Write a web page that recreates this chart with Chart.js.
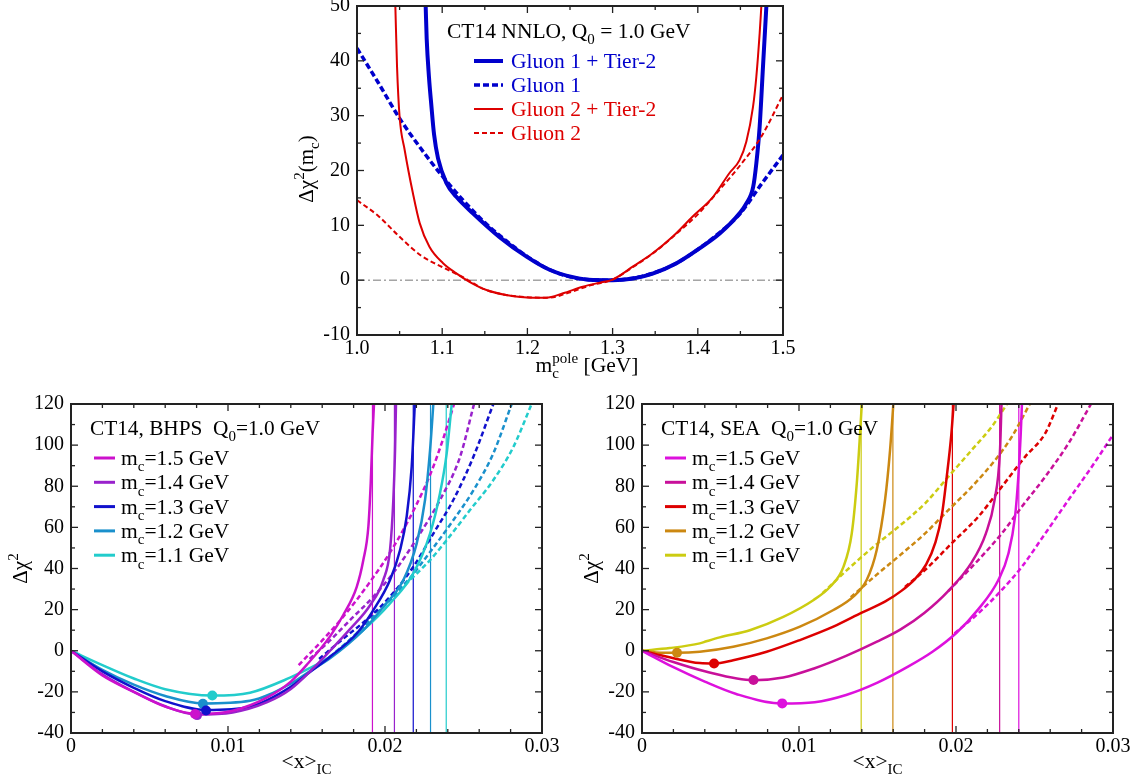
<!DOCTYPE html>
<html>
<head>
<meta charset="utf-8">
<script src="https://cdn.jsdelivr.net/npm/chart.js@4"></script>
<style>
body { margin: 0; background: #fff; width: 1143px; height: 784px; position: relative; overflow: hidden; }
canvas { position: absolute; }
</style>
</head>
<body>
<canvas id="topChart" width="520" height="392" style="left:280px;top:0px"></canvas>
<canvas id="bhpsChart" width="565" height="392" style="left:0px;top:392px"></canvas>
<canvas id="seaChart" width="573" height="392" style="left:570px;top:392px"></canvas>
<script>
// ---- top panel: delta chi2 vs m_c pole ----
var topG1TierX = [1.0806, 1.0818, 1.0845, 1.0872, 1.0905, 1.0951, 1.105, 1.1166, 1.136, 1.167, 1.199, 1.226, 1.2535, 1.277, 1.300, 1.324, 1.347, 1.375, 1.402, 1.4257, 1.449, 1.457, 1.465, 1.4687, 1.4726, 1.4765, 1.4805]
var topG1TierY = [50, 44, 37, 32, 26.5, 22.2, 17.7, 15.2, 12.2, 7.9, 4.3, 1.9, 0.55, 0.03, 0, 0.3, 1.2, 3.1, 5.8, 8.5, 12.2, 14, 17, 21.3, 28, 38.9, 50]
var topG1X = [1.0, 1.025, 1.05, 1.075, 1.1, 1.125, 1.15, 1.175, 1.2, 1.225, 1.25, 1.275, 1.3, 1.325, 1.35, 1.375, 1.4, 1.425, 1.45, 1.475, 1.5]
var topG1Y = [42.3, 36, 29.5, 24, 19, 14.5, 10.5, 7.2, 4.3, 2, 0.6, 0.05, 0, 0.4, 1.4, 3.1, 5.6, 8.6, 12.2, 17.6, 22.8]
var topG2TierX = [1.045, 1.047, 1.050, 1.056, 1.0657, 1.0736, 1.085, 1.101, 1.1166, 1.132, 1.152, 1.175, 1.2066, 1.222, 1.2418, 1.265, 1.285, 1.300, 1.324, 1.347, 1.371, 1.394, 1.418, 1.437, 1.449, 1.457, 1.4648, 1.4687, 1.4726, 1.4746]
var topG2TierY = [50, 38.9, 29.8, 23.7, 15.8, 10.4, 6.1, 3.1, 1.25, -0.3, -1.8, -2.7, -3.2, -3.2, -2.4, -1.2, -0.45, 0.1, 2.5, 4.9, 8, 11.6, 15.2, 19.5, 21.9, 25.3, 31.6, 37.1, 45, 50]
var topG2X = [1.0, 1.025, 1.05, 1.075, 1.1, 1.125, 1.15, 1.175, 1.2, 1.225, 1.25, 1.275, 1.3, 1.325, 1.35, 1.375, 1.4, 1.425, 1.45, 1.475, 1.5]
var topG2Y = [14.6, 11.7, 7.9, 4.5, 2.4, 0.5, -1.7, -2.7, -3.1, -3.2, -2.2, -0.9, 0.1, 2.5, 5.2, 8.5, 12, 16.4, 21, 26.3, 33.8]
var topZeroX = [1.0, 1.5]
var topZeroY = [0, 0]
var topLabels = ['Gluon 1 + Tier-2', 'Gluon 1', 'Gluon 2 + Tier-2', 'Gluon 2']

// ---- bottom left: BHPS ----
var massLabels = ['1.5', '1.4', '1.3', '1.2', '1.1']
var bhps15X = [0, 0.002, 0.004, 0.006, 0.008, 0.0103, 0.0125, 0.014, 0.015, 0.0165, 0.01735, 0.0182, 0.01862, 0.01894, 0.01909, 0.01921, 0.0193]
var bhps15Y = [0, -12, -20, -27.2, -30.8, -29.2, -22.7, -15, -7, 7, 17.5, 31.1, 44.1, 60.3, 81.4, 105.7, 120]
var bhps14X = [0, 0.002, 0.004, 0.006, 0.008, 0.0103, 0.0125, 0.014, 0.0155, 0.0165, 0.01777, 0.01904, 0.01989, 0.02032, 0.02053, 0.02064, 0.0207]
var bhps14Y = [0, -11.5, -20, -27, -31, -30, -25, -18.6, -8, 0, 10.5, 22, 34.4, 49, 73.3, 97.6, 120]
var bhps13X = [0, 0.002, 0.004, 0.006, 0.0086, 0.0114, 0.01395, 0.0152, 0.0165, 0.0182, 0.01926, 0.02032, 0.02096, 0.02138, 0.0217, 0.0219]
var bhps13Y = [0, -10, -18, -24.5, -28.8, -27.2, -17.8, -10.5, -2.9, 8.4, 19.8, 34.4, 49, 65.2, 89.5, 120]
var bhps12X = [0, 0.002, 0.004, 0.006, 0.0084, 0.0114, 0.01395, 0.0152, 0.0165, 0.01862, 0.0199, 0.02117, 0.02202, 0.02255, 0.02287, 0.02308]
var bhps12Y = [0, -9.3, -16.5, -22, -25.6, -24.3, -16.2, -10, -3.7, 10, 21.4, 34.4, 52.2, 73.3, 97.6, 120]
var bhps11X = [0, 0.002, 0.004, 0.006, 0.009, 0.0114, 0.01395, 0.0152, 0.0165, 0.01862, 0.02032, 0.0218, 0.02287, 0.0235, 0.02393, 0.02425]
var bhps11Y = [0, -7, -13.5, -18.7, -21.8, -20.4, -13.1, -8.5, -2.9, 10, 23, 37.6, 57, 76.5, 96, 120]
var bhps15DashX = [0.0145, 0.016, 0.0175, 0.019, 0.0205, 0.022, 0.023, 0.0237, 0.0244]
var bhps15DashY = [-7, 5, 18, 33, 50, 71, 88, 103, 120]
var bhps14DashX = [0.0152, 0.0165, 0.01777, 0.01926, 0.02074, 0.02223, 0.0235, 0.02478, 0.02567]
var bhps14DashY = [-4, 5, 14.9, 26.3, 40, 57, 73.3, 94.3, 120]
var bhps13DashX = [0.0158, 0.0172, 0.01904, 0.02032, 0.0218, 0.02308, 0.02435, 0.02563, 0.0269]
var bhps13DashY = [-4, 5, 16.5, 26.3, 40.8, 57, 73.3, 94.3, 120]
var bhps12DashX = [0.0165, 0.018, 0.0201, 0.0216, 0.02287, 0.02435, 0.02563, 0.0269, 0.02807]
var bhps12DashY = [-3, 7, 23, 35.5, 48, 63.5, 78, 96, 120]
var bhps11DashX = [0.0165, 0.018, 0.0199, 0.0216, 0.02287, 0.02393, 0.02541, 0.0269, 0.02817, 0.02934]
var bhps11DashY = [-3, 7, 21.5, 34.4, 44.1, 53.8, 68.4, 83, 99, 120]
var bhpsMinX = [0.0079, 0.00803, 0.0086, 0.0084, 0.009]
var bhpsMinY = [-30.8, -31.3, -29.1, -25.8, -21.8]
var bhpsLimitX = [0.0192, 0.0206, 0.0218, 0.0229, 0.0239]

// ---- bottom right: SEA ----
var sea15X = [0, 0.002, 0.004, 0.006, 0.0089, 0.011, 0.013, 0.015, 0.017, 0.0185, 0.02, 0.0214, 0.0227, 0.02334, 0.02376, 0.02397, 0.02412, 0.0242]
var sea15Y = [0, -8, -15, -21, -25.6, -25, -21.5, -15.5, -7.5, -0.5, 8.5, 20, 34.4, 47.3, 65.2, 84.6, 105, 120]
var sea14X = [0, 0.002, 0.004, 0.0071, 0.009, 0.011, 0.013, 0.015, 0.0165, 0.018, 0.0195, 0.021, 0.0219, 0.02245, 0.0228, 0.0229]
var sea14Y = [0, -5.5, -10, -14.3, -13, -8.5, -2.5, 4.5, 10.5, 18.5, 29, 43, 57, 73, 97, 120]
var sea13X = [0, 0.00176, 0.00368, 0.00459, 0.00581, 0.00794, 0.01006, 0.01219, 0.014, 0.0155, 0.0165, 0.0174, 0.0181, 0.0187, 0.0191, 0.0194, 0.0197, 0.01985]
var sea13Y = [0, -3.2, -6, -6.2, -4.6, -0.5, 5.2, 11.7, 18.5, 24, 29, 35, 42, 53, 66, 84, 105, 120]
var sea12X = [0, 0.00091, 0.00223, 0.00368, 0.00581, 0.00794, 0.01006, 0.01219, 0.01346, 0.01431, 0.01495, 0.01548, 0.0158, 0.01601]
var sea12Y = [0, -0.8, -1.0, -0.5, 1.9, 6, 11.7, 19.8, 26.3, 34.4, 49, 73.3, 97.6, 120]
var sea11X = [0, 0.00176, 0.00368, 0.0041, 0.00495, 0.00687, 0.009, 0.01091, 0.01198, 0.01283, 0.01336, 0.01368, 0.01389, 0.014]
var sea11Y = [0, 1.3, 3.6, 4.6, 6.5, 10, 16.5, 24.6, 31.1, 40.8, 57, 81.4, 105.7, 120]
var sea15DashX = [0.0199, 0.02142, 0.02291, 0.02419, 0.02568, 0.02716, 0.02865, 0.03]
var sea15DashY = [8.4, 18.2, 29.5, 40.8, 57, 73.3, 89.5, 105]
var sea14DashX = [0.0195, 0.02142, 0.02291, 0.02419, 0.02568, 0.02716, 0.0286]
var sea14DashY = [29, 44.1, 57, 70, 84.6, 100.8, 120]
var sea13DashX = [0.01675, 0.01802, 0.01972, 0.02142, 0.02291, 0.0244, 0.02568, 0.0265]
var sea13DashY = [31, 39.2, 52.2, 65.2, 79.7, 94.3, 105.7, 120]
var sea12DashX = [0.0133, 0.01495, 0.01644, 0.01802, 0.01951, 0.021, 0.02249, 0.02355, 0.0247]
var sea12DashY = [26, 37, 46.5, 57, 68.4, 79.7, 92.7, 104, 120]
var sea11DashX = [0.0115, 0.01305, 0.01475, 0.01645, 0.01802, 0.01951, 0.021, 0.02227, 0.02325]
var sea11DashY = [28, 39.2, 50.6, 61, 71.6, 84.6, 97.6, 108.9, 120]
var seaMinX = [0.00893, 0.0071, 0.00459, 0.00223]
var seaMinY = [-25.6, -14.2, -6.2, -1.0]
var seaLimitX = [0.024, 0.02278, 0.01977, 0.01598, 0.01396]

var FONT = '"Liberation Serif", "Times New Roman", serif'
var bhpsColors = ['#cc11cc', '#9922cc', '#1111cc', '#1a90cc', '#22cccc']
var seaColors = ['#dd11dd', '#c8109a', '#dd0000', '#cc8811', '#cccc11']

function pts(xs, ys) {
    return xs.map(function (x, i) { return { x: x, y: ys[i] } })
}

function curve(xs, ys, color, width, dash, order) {
    return {
        data: pts(xs, ys), showLine: true, borderColor: color, borderWidth: width,
        borderDash: dash || [], pointRadius: 0, fill: false,
        cubicInterpolationMode: 'monotone', order: order
    }
}

function vline(x, lo, hi, color, order) {
    return { data: [{ x: x, y: lo }, { x: x, y: hi }], showLine: true, borderColor: color,
        borderWidth: 1.2, pointRadius: 0, fill: false, tension: 0, order: order }
}

function dot(x, y, color) {
    return { data: [{ x: x, y: y }], showLine: false, pointRadius: 5, pointBackgroundColor: color,
        pointBorderColor: color, pointBorderWidth: 0, order: 0 }
}

// text with sub / superscripts
function seg(ctx, p, size, x, y, draw) {
    var small = Math.round(size * 0.72)
    if (p.u !== undefined) {
        ctx.font = small + 'px ' + FONT
        var w1 = ctx.measureText(p.t).width, w2 = ctx.measureText(p.u).width
        if (draw) { ctx.fillText(p.t, x, y + size * 0.3); ctx.fillText(p.u, x, y - size * 0.42) }
        return Math.max(w1, w2)
    }
    ctx.font = (p.s ? small : size) + 'px ' + FONT
    var dy = p.s === 'sub' ? size * 0.3 : (p.s === 'sup' ? -size * 0.42 : 0)
    if (draw) ctx.fillText(p.t, x, y + dy)
    return ctx.measureText(p.t).width
}

function drawRich(ctx, parts, x, y, size, color, align) {
    ctx.save()
    ctx.fillStyle = color
    ctx.textBaseline = 'alphabetic'
    ctx.textAlign = 'left'
    var w = 0
    parts.forEach(function (p) { w += seg(ctx, p, size, 0, 0, false) })
    var cx = align === 'center' ? x - w / 2 : x
    parts.forEach(function (p) { cx += seg(ctx, p, size, cx, y, true) })
    ctx.restore()
}

function drawRotated(ctx, parts, x, y, size) {
    ctx.save()
    ctx.translate(x, y)
    ctx.rotate(-Math.PI / 2)
    drawRich(ctx, parts, 0, 0, size, '#000', 'center')
    ctx.restore()
}

function legendLine(ctx, x1, x2, y, color, width, dash) {
    ctx.save()
    ctx.strokeStyle = color
    ctx.lineWidth = width
    ctx.setLineDash(dash || [])
    ctx.beginPath(); ctx.moveTo(x1, y); ctx.lineTo(x2, y); ctx.stroke()
    ctx.restore()
}

// frame, inward ticks and the text overlay
function framePlugin(xMinor, yMinor, drawText) {
    return {
        id: 'frame',
        afterDraw: function (chart) {
            var ctx = chart.ctx, a = chart.chartArea
            var sx = chart.scales.x, sy = chart.scales.y
            ctx.save()
            ctx.strokeStyle = '#222'
            ctx.lineWidth = 1.3
            function seg2(x1, y1, x2, y2) { ctx.beginPath(); ctx.moveTo(x1, y1); ctx.lineTo(x2, y2); ctx.stroke() }
            function along(scale, step, horiz) {
                var n = Math.round((scale.max - scale.min) / step)
                for (var i = 0; i <= n; i++) {
                    var v = scale.min + i * step
                    var major = scale.ticks.some(function (t) { return Math.abs(t.value - v) < step * 1e-3 })
                    var len = major ? 7 : 4
                    var p = scale.getPixelForValue(v)
                    if (horiz) { seg2(p, a.bottom, p, a.bottom - len); seg2(p, a.top, p, a.top + len) }
                    else { seg2(a.left, p, a.left + len, p); seg2(a.right, p, a.right - len, p) }
                }
            }
            along(sx, xMinor, true)
            along(sy, yMinor, false)
            ctx.lineWidth = 2
            ctx.strokeRect(a.left, a.top, a.right - a.left, a.bottom - a.top)
            ctx.restore()
            drawText(ctx, a)
        }
    }
}

function makeScales(xmin, xmax, xstep, xfmt, ymin, ymax, ystep, yw, xh) {
    var font = { family: FONT, size: 20 }
    return {
        x: {
            type: 'linear', position: 'bottom', min: xmin, max: xmax,
            grid: { display: false, drawTicks: false }, border: { display: false },
            ticks: { stepSize: xstep, font: font, color: '#000', padding: 2, maxRotation: 0, autoSkip: false, callback: xfmt },
            afterFit: function (s) { s.height = xh; s.paddingLeft = 0; s.paddingRight = 0 }
        },
        y: {
            type: 'linear', position: 'left', min: ymin, max: ymax,
            grid: { display: false, drawTicks: false }, border: { display: false },
            ticks: { stepSize: ystep, font: font, color: '#000', padding: 7, autoSkip: false },
            afterFit: function (s) { s.width = yw; s.paddingTop = 0; s.paddingBottom = 0 }
        }
    }
}

function baseOptions(scales, pad) {
    return {
        responsive: false, animation: false, events: [],
        layout: { padding: pad },
        plugins: { legend: { display: false }, tooltip: { enabled: false } },
        scales: scales
    }
}

// ---------- top chart ----------
var blue = '#0000cc', red = '#dd0000'
new Chart(document.getElementById('topChart'), {
    type: 'scatter',
    data: {
        datasets: [
            { data: pts(topZeroX, topZeroY), showLine: true, borderColor: '#777', borderWidth: 1,
              borderDash: [8, 3, 2, 3], pointRadius: 0, tension: 0, order: 5 },
            curve(topG1X, topG1Y, blue, 3.5, [6, 3], 4),
            curve(topG1TierX, topG1TierY, blue, 4, [], 3),
            curve(topG2X, topG2Y, red, 2, [5, 3], 2),
            curve(topG2TierX, topG2TierY, red, 2, [], 1)
        ]
    },
    options: baseOptions(
        makeScales(1.0, 1.5, 0.1, function (v) { return v.toFixed(1) }, -10, 50, 10, 77, 57),
        { top: 6, right: 17, left: 0, bottom: 0 }),
    plugins: [framePlugin(0.05, 5, function (ctx, a) {
        drawRich(ctx, [{ t: 'CT14 NNLO, Q' }, { t: '0', s: 'sub' }, { t: ' = 1.0 GeV' }], a.left + 90, a.top + 32, 21.5, '#000', 'left')
        var rows = [[blue, 4, []], [blue, 3.5, [6, 3]], [red, 2, []], [red, 2, [5, 3]]]
        rows.forEach(function (r, i) {
            var y = a.top + 55 + i * 24
            legendLine(ctx, a.left + 117, a.left + 146, y, r[0], r[1], r[2])
            drawRich(ctx, [{ t: topLabels[i] }], a.left + 154, y + 7, 21.5, r[0], 'left')
        })
        drawRotated(ctx, [{ t: 'Δχ' }, { t: '2', s: 'sup' }, { t: '(m' }, { t: 'c', s: 'sub' }, { t: ')' }], a.left - 44, a.top + 163, 21)
        drawRich(ctx, [{ t: 'm' }, { t: 'c', u: 'pole' }, { t: ' [GeV]' }], a.left + 230, a.bottom + 37, 21.5, '#000', 'center')
    })]
})

// ---------- bottom charts ----------
function xfmtSmall(v) { return Math.abs(v) < 1e-9 ? '0' : v.toFixed(2) }

function bottomText(name, colors) {
    return function (ctx, a) {
        drawRich(ctx, [{ t: 'CT14, ' + name + '  Q' }, { t: '0', s: 'sub' }, { t: '=1.0 GeV' }], a.left + 19, a.top + 31, 21.3, '#000', 'left')
        massLabels.forEach(function (m, i) {
            var y = a.top + 54 + i * 24.3
            legendLine(ctx, a.left + 23, a.left + 44, y, colors[i], 3, [])
            drawRich(ctx, [{ t: 'm' }, { t: 'c', s: 'sub' }, { t: '=' + m + ' GeV' }], a.left + 50, y + 7, 21.5, '#000', 'left')
        })
        drawRotated(ctx, [{ t: 'Δχ' }, { t: '2', s: 'sup' }], a.left - 44, (a.top + a.bottom) / 2, 21)
        drawRich(ctx, [{ t: '<x>' }, { t: 'IC', s: 'sub' }], (a.left + a.right) / 2, a.bottom + 35, 21.5, '#000', 'center')
    }
}

var c = bhpsColors
var bhpsSets = [
    curve(bhps15DashX, bhps15DashY, c[0], 2.5, [5, 3], 3),
    curve(bhps14DashX, bhps14DashY, c[1], 2.5, [5, 3], 3),
    curve(bhps13DashX, bhps13DashY, c[2], 2.5, [5, 3], 3),
    curve(bhps12DashX, bhps12DashY, c[3], 2.5, [5, 3], 3),
    curve(bhps11DashX, bhps11DashY, c[4], 2.5, [5, 3], 3),
    curve(bhps15X, bhps15Y, c[0], 2.5, [], 2),
    curve(bhps14X, bhps14Y, c[1], 2.5, [], 2),
    curve(bhps13X, bhps13Y, c[2], 2.5, [], 2),
    curve(bhps12X, bhps12Y, c[3], 2.5, [], 2),
    curve(bhps11X, bhps11Y, c[4], 2.5, [], 2)
]
bhpsLimitX.forEach(function (x, i) { bhpsSets.push(vline(x, -40, 120, c[i], 4)) })
bhpsMinX.forEach(function (x, i) { bhpsSets.push(dot(x, bhpsMinY[i], c[i])) })

new Chart(document.getElementById('bhpsChart'), {
    type: 'scatter',
    data: { datasets: bhpsSets },
    options: baseOptions(makeScales(0, 0.03, 0.01, xfmtSmall, -40, 120, 20, 71, 51),
        { top: 12, right: 23, left: 0, bottom: 0 }),
    plugins: [framePlugin(0.002, 10, bottomText('BHPS', bhpsColors))]
})

var s = seaColors
var seaSets = [
    curve(sea15DashX, sea15DashY, s[0], 2.5, [5, 3], 3),
    curve(sea14DashX, sea14DashY, s[1], 2.5, [5, 3], 3),
    curve(sea13DashX, sea13DashY, s[2], 2.5, [5, 3], 3),
    curve(sea12DashX, sea12DashY, s[3], 2.5, [5, 3], 3),
    curve(sea11DashX, sea11DashY, s[4], 2.5, [5, 3], 3),
    curve(sea15X, sea15Y, s[0], 2.5, [], 2),
    curve(sea14X, sea14Y, s[1], 2.5, [], 2),
    curve(sea13X, sea13Y, s[2], 2.5, [], 2),
    curve(sea12X, sea12Y, s[3], 2.5, [], 2),
    curve(sea11X, sea11Y, s[4], 2.5, [], 2)
]
seaLimitX.forEach(function (x, i) { seaSets.push(vline(x, -40, 120, s[i], 4)) })
seaMinX.forEach(function (x, i) { seaSets.push(dot(x, seaMinY[i], s[i])) })

new Chart(document.getElementById('seaChart'), {
    type: 'scatter',
    data: { datasets: seaSets },
    options: baseOptions(makeScales(0, 0.03, 0.01, xfmtSmall, -40, 120, 20, 72, 51),
        { top: 12, right: 30, left: 0, bottom: 0 }),
    plugins: [framePlugin(0.002, 10, bottomText('SEA', seaColors))]
})
</script>
</body>
</html>
